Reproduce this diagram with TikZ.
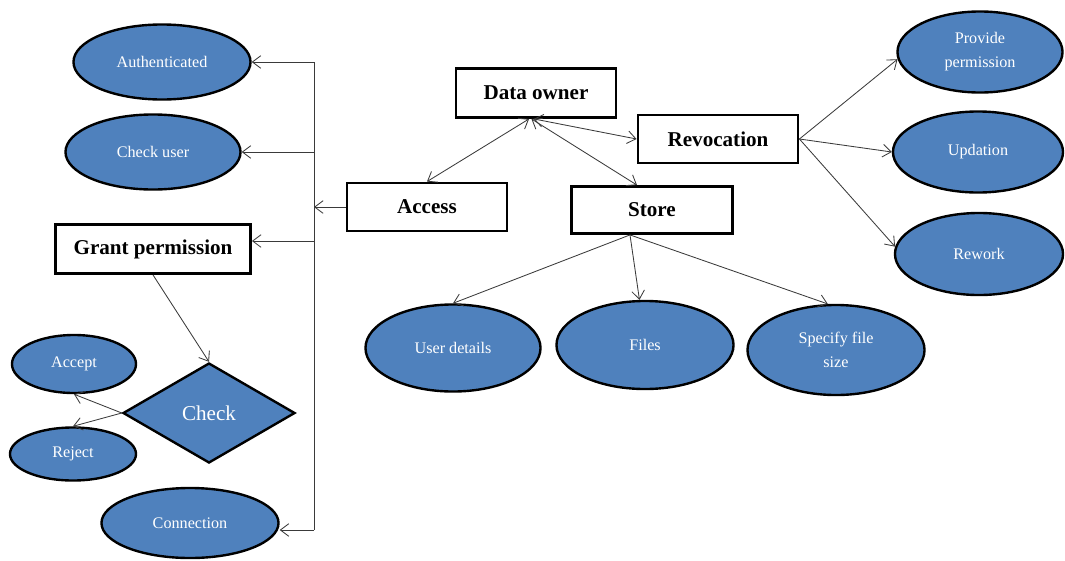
\documentclass[tikz,border=0pt]{standalone}
\usepackage{fontspec}
\setmainfont{Liberation Serif}
\usetikzlibrary{shapes.geometric,arrows.meta}
\definecolor{ellblue}{HTML}{4F81BD}
\definecolor{linkgray}{HTML}{3A3A3A}

\begin{document}
\begin{tikzpicture}[x=0.025cm,y=-0.025cm,
    ell/.style={draw, ellipse, line width=1.7pt, fill=ellblue, text=white,
      inner sep=0pt, align=center, font=\fontsize{11.5}{17}\selectfont},
    box/.style={draw, rectangle, line width=2pt, fill=white, inner sep=0pt,
      font=\fontsize{15}{18}\selectfont\bfseries},
    link/.style={draw=linkgray, line width=0.6pt},
    arr/.style={link, -{Straight Barb[length=6pt,width=9pt]}},
    twoarr/.style={link, {Straight Barb[length=6pt,width=9pt]}-{Straight Barb[length=6pt,width=9pt]}}]
      \useasboundingbox (0,0) rectangle (1065,560);
      \node (own) at (536,93) [box, minimum width=4cm, minimum height=1.225cm] {Data owner};
      \node (access) at (427,207) [box, minimum width=4cm, minimum height=1.2cm] {Access};
      \node (rev) at (718,139) [box, minimum width=4cm, minimum height=1.2cm] {Revocation};
      \node (store) at (652,210) [box, minimum width=4.025cm, minimum height=1.175cm] {Store};
      \node (grant) at (153,249) [box, minimum width=4.875cm, minimum height=1.225cm] {Grant permission};
      \node (auth) at (162,62) [ell, minimum width=4.425cm, minimum height=1.875cm] {Authenticated};
      \node (chku) at (153,152) [ell, minimum width=4.375cm, minimum height=1.875cm] {Check user};
      \node (conn) at (190,523) [ell, minimum width=4.425cm, minimum height=1.75cm] {Connection};
      \node (acc) at (74,364) [ell, minimum width=3.1cm, minimum height=1.45cm] {Accept};
      \node (rej) at (73,454) [ell, minimum width=3.15cm, minimum height=1.325cm] {Reject};
      \node (chkd) at (209,413) [draw, diamond, line width=1.7pt, fill=ellblue, text=white,
        inner sep=0pt, aspect=1.72, minimum width=4.3cm, minimum height=2.5cm,
        font=\fontsize{15}{18}\selectfont] {Check};
      \node (ud) at (453,348) [ell, minimum width=4.375cm, minimum height=2.175cm] {User details};
      \node (files) at (645,345) [ell, minimum width=4.425cm, minimum height=2.2cm] {Files};
      \node (spec) at (836,350) [ell, minimum width=4.425cm, minimum height=2.25cm] {Specify file\\size};
      \node (prov) at (980,52) [ell, minimum width=4.125cm, minimum height=2.025cm] {Provide\\permission};
      \node (upd) at (978,152) [ell, minimum width=4.25cm, minimum height=2.025cm] {Updation};
      \node (rew) at (979,254) [ell, minimum width=4.2cm, minimum height=2.05cm] {Rework};
      \coordinate (busA) at (314,62);
      \coordinate (busC) at (314,152);
      \coordinate (busG) at (314,241);
      \coordinate (busZ) at (314,530);
      \draw[link] (busA) to (busZ);
      \draw[arr] (access.west) to (access.west -| busA);
      \draw[arr] (busA) to (auth.east);
      \draw[arr] (busC) to (chku.east);
      \draw[arr] (busG) to (grant.east |- busG);
      \draw[arr] (busZ) to (conn.east |- busZ);
      \draw[arr] (grant.south) to (chkd.north);
      \draw[arr] (chkd.west) to (acc.south);
      \draw[arr] (chkd.west) to (rej.north);
      \draw[twoarr] (own.-105) to (access.north);
      \draw[twoarr] (own.-100) to ([xshift=-0.375cm]store.north);
      \draw[twoarr] (own.-95) to (rev.west);
      \draw[arr] ([xshift=-0.55cm]store.south) to (ud.north);
      \draw[arr] ([xshift=-0.55cm]store.south) to (files.97);
      \draw[arr] ([xshift=-0.55cm]store.south) to (spec.100);
      \draw[arr] (rev.east) to (prov.185);
      \draw[arr] (rev.east) to (upd.west);
      \draw[arr] (rev.east) to (rew.175);
    \end{tikzpicture}
\end{document}
